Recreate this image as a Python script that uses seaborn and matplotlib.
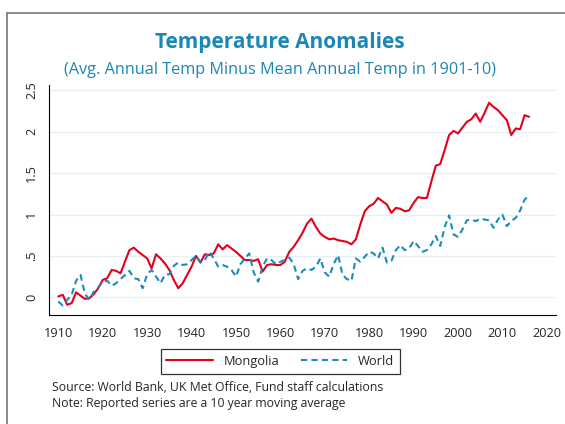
import matplotlib
matplotlib.use('Agg')
import matplotlib.pyplot as plt
from matplotlib.lines import Line2D
import seaborn as sns
import pandas as pd

years = list(range(1910, 2017))

mongolia = [
    0.01, 0.03, -0.09, -0.07, 0.06, 0.02, -0.02, -0.01, 0.04, 0.11,
    0.21, 0.23, 0.33, 0.32, 0.29, 0.43, 0.57, 0.60, 0.55, 0.51,
    0.47, 0.35, 0.52, 0.47, 0.41, 0.33, 0.21, 0.11, 0.17, 0.27,
    0.37, 0.50, 0.42, 0.52, 0.51, 0.53, 0.64, 0.58, 0.63, 0.59,
    0.55, 0.50, 0.45, 0.45, 0.44, 0.46, 0.31, 0.39, 0.40, 0.39,
    0.39, 0.43, 0.55, 0.61, 0.69, 0.78, 0.89, 0.95, 0.85, 0.77,
    0.73, 0.70, 0.71, 0.69, 0.68, 0.67, 0.64, 0.70, 0.88, 1.04,
    1.10, 1.13, 1.20, 1.16, 1.12, 1.02, 1.08, 1.07, 1.04, 1.05,
    1.14, 1.21, 1.20, 1.20, 1.40, 1.59, 1.61, 1.78, 1.96, 2.01,
    1.98, 2.05, 2.12, 2.15, 2.22, 2.12, 2.23, 2.35, 2.30, 2.26,
    2.20, 2.14, 1.96, 2.04, 2.03, 2.20, 2.18,
]

world = [
    -0.05, -0.10, -0.03, 0.03, 0.20, 0.27, 0.04, -0.03, 0.07, 0.12,
    0.19, 0.20, 0.14, 0.17, 0.22, 0.27, 0.32, 0.23, 0.22, 0.11,
    0.28, 0.33, 0.25, 0.17, 0.27, 0.28, 0.38, 0.42, 0.39, 0.40,
    0.45, 0.50, 0.42, 0.45, 0.55, 0.47, 0.37, 0.39, 0.37, 0.33,
    0.25, 0.40, 0.47, 0.53, 0.30, 0.19, 0.37, 0.47, 0.45, 0.40,
    0.43, 0.45, 0.48, 0.40, 0.22, 0.32, 0.35, 0.33, 0.37, 0.47,
    0.30, 0.25, 0.40, 0.51, 0.27, 0.22, 0.20, 0.47, 0.43, 0.49,
    0.55, 0.53, 0.47, 0.60, 0.42, 0.44, 0.57, 0.63, 0.57, 0.59,
    0.68, 0.62, 0.55, 0.57, 0.64, 0.74, 0.62, 0.85, 0.99, 0.76,
    0.73, 0.82, 0.93, 0.94, 0.92, 0.95, 0.94, 0.93, 0.84, 0.94,
    1.00, 0.86, 0.92, 0.96, 1.05, 1.18, 1.23,
]

x_ticks = list(range(1910, 2030, 10))
y_ticks = [0, 0.5, 1, 1.5, 2, 2.5]
y_tick_labels = ['0', '.5', '1', '1.5', '2', '2.5']

df = pd.DataFrame({'year': years, 'Mongolia': mongolia, 'World': world})

sns.set_style('white')
plt.rcParams['font.family'] = ['Open Sans', 'DejaVu Sans']

fig = plt.figure(figsize=(5.65, 4.24), dpi=100)
ax = fig.add_axes([0.0873, 0.257, 0.897, 0.543])

red = '#e3001b'
blue = '#1b8bbb'
title_col = '#1a87b4'
dash = [3, 2]

sns.lineplot(data=df, x='year', y='Mongolia', color=red, lw=1.5, ax=ax, label='Mongolia')
sns.lineplot(data=df, x='year', y='World', color=blue, lw=1.5, ax=ax, label='World')
ax.lines[1].set_dashes(dash)

ax.set_xlim(1907.97, 2022.1)
ax.set_ylim(-0.214, 2.567)
ax.set_xticks(x_ticks)
ax.set_yticks(y_ticks)
ax.set_yticklabels(y_tick_labels, rotation=90, va='center')
ax.tick_params(axis='both', length=5, width=0.8, color='black', labelsize=9.2, direction='out')
ax.tick_params(axis='y', pad=3)
ax.set_xlabel('')
ax.set_ylabel('')
ax.grid(axis='y', color='#e5f0f3', lw=1)
ax.grid(axis='x', visible=False)
for s in ['top', 'right']:
    ax.spines[s].set_visible(False)
for s in ['left', 'bottom']:
    ax.spines[s].set_color('black')
    ax.spines[s].set_linewidth(0.8)

ax.get_legend().remove()
handles = [Line2D([], [], color=red, lw=1.5),
           Line2D([], [], color=blue, lw=1.5, dashes=dash)]
leg = fig.legend(handles, ['Mongolia', 'World'], ncol=2, loc='center',
                 bbox_to_anchor=(0.496, 0.148), frameon=True, fancybox=False,
                 edgecolor='black', fontsize=9.3, handlelength=3.6,
                 columnspacing=1.7, borderpad=0.45, handletextpad=0.8)
leg.get_frame().set_linewidth(0.9)

fig.text(0.496, 0.9, 'Temperature Anomalies', ha='center', va='center',
         fontsize=15, fontweight='bold', color=title_col)
fig.text(0.496, 0.835, '(Avg. Annual Temp Minus Mean Annual Temp in 1901-10)',
         ha='center', va='center', fontsize=11.7, color=title_col)

fig.text(0.092, 0.087, 'Source: World Bank, UK Met Office, Fund staff calculations',
         ha='left', va='center', fontsize=8.8)
fig.text(0.092, 0.049, 'Note: Reported series are a 10 year moving average',
         ha='left', va='center', fontsize=8.8)

# frame edges from the original page
fig.add_artist(Line2D([0.0124, 1.0], [0.969, 0.969], color='#777777', lw=1.2))
fig.add_artist(Line2D([0.0124, 0.0124], [0.0, 0.969], color='#777777', lw=1.2))

fig.savefig('out.png', dpi=100)
